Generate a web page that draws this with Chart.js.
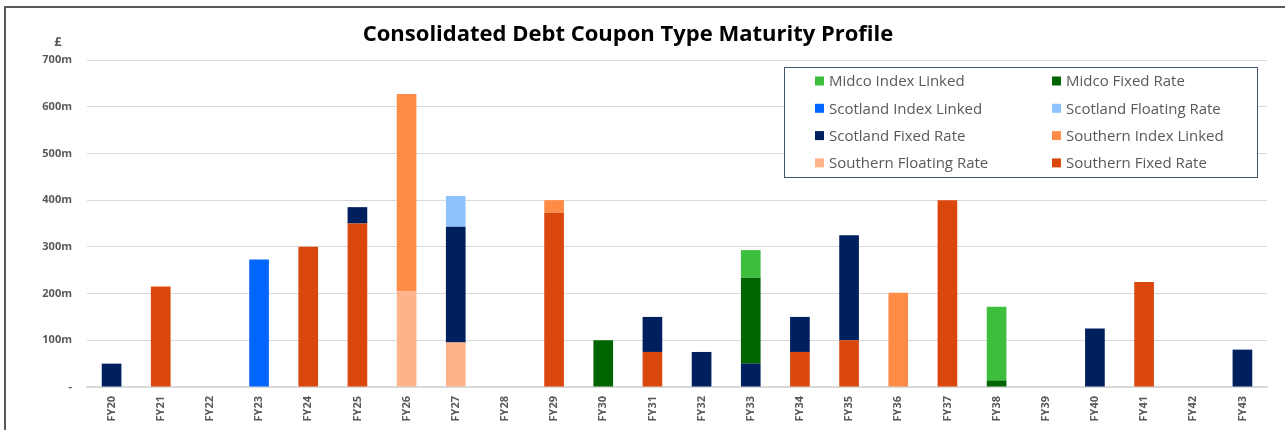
<!DOCTYPE html>
<html>
<head>
<meta charset="utf-8">
<script src="https://cdn.jsdelivr.net/npm/chart.js@4"></script>
<style>
  body { margin: 0; background: #fff; overflow: hidden; }
  #frame { position: absolute; left: 4px; top: 6px; width: 1400px; height: 600px;
           border-left: 2px solid #5a5a5a; border-top: 2px solid #5a5a5a; }
  #wrap { position: absolute; left: 0; top: 0; width: 1285px; height: 430px; }
</style>
</head>
<body>
<div id="frame"></div>
<div id="wrap"><canvas id="chart" width="1285" height="430"></canvas></div>
<script>
const categories = ["FY20","FY21","FY22","FY23","FY24","FY25","FY26","FY27","FY28","FY29","FY30","FY31",
                    "FY32","FY33","FY34","FY35","FY36","FY37","FY38","FY39","FY40","FY41","FY42","FY43"];

// £m
const southernFixed    = [0,215,0,0,300,350,0,0,0,373,0,75,0,0,75,100,0,400,0,0,0,225,0,0];
const southernFloating = [0,0,0,0,0,0,205,95,0,0,0,0,0,0,0,0,0,0,0,0,0,0,0,0];
const southernIndex    = [0,0,0,0,0,0,422,0,0,27,0,0,0,0,0,0,202,0,0,0,0,0,0,0];
const scotlandFixed    = [50,0,0,0,0,35,0,248,0,0,0,75,75,50,75,225,0,0,0,0,125,0,0,80];
const scotlandFloating = [0,0,0,0,0,0,0,66,0,0,0,0,0,0,0,0,0,0,0,0,0,0,0,0];
const scotlandIndex    = [0,0,0,273,0,0,0,0,0,0,0,0,0,0,0,0,0,0,0,0,0,0,0,0];
const midcoFixed       = [0,0,0,0,0,0,0,0,0,0,100,0,0,184,0,0,0,0,14,0,0,0,0,0];
const midcoIndex       = [0,0,0,0,0,0,0,0,0,0,0,0,0,59,0,0,0,0,158,0,0,0,0,0];

const yTicks = [0,100,200,300,400,500,600,700];

const font = "'Open Sans', 'Liberation Sans', sans-serif";
const grey = "#595959";

// legend reads row by row, two columns (reverse of the stacking order)
const legendOrder = ["Midco Index Linked","Midco Fixed Rate","Scotland Index Linked","Scotland Floating Rate",
                     "Scotland Fixed Rate","Southern Index Linked","Southern Floating Rate","Southern Fixed Rate"];

const extras = {
  id: "extras",
  afterDraw(chart) {
    const ctx = chart.ctx;
    ctx.save();
    // title
    ctx.fillStyle = "#000";
    ctx.font = "bold 22px " + font;
    ctx.textAlign = "center";
    ctx.textBaseline = "middle";
    ctx.fillText("Consolidated Debt Coupon Type Maturity Profile", 628, 35);
    // currency unit
    ctx.fillStyle = grey;
    ctx.font = "bold 13px " + font;
    ctx.fillText("£", 58, 42);

    // legend box
    const bx = 784, by = 67, bw = 473, bh = 110;
    ctx.fillStyle = "#fff";
    ctx.fillRect(bx, by, bw, bh);
    ctx.strokeStyle = "#44546a";
    ctx.lineWidth = 1;
    ctx.strokeRect(bx + 0.5, by + 0.5, bw, bh);
    ctx.font = "15px " + font;
    ctx.textAlign = "left";
    legendOrder.forEach((name, i) => {
      const ds = chart.data.datasets.find(d => d.label === name);
      const col = i % 2, row = Math.floor(i / 2);
      const x = col === 0 ? 815 : 1052;
      const y = 81 + row * 27.3;
      ctx.fillStyle = ds.backgroundColor;
      ctx.fillRect(x, y - 4.5, 9, 9);
      ctx.fillStyle = grey;
      ctx.fillText(name, x + 14, y + 1);
    });
    ctx.restore();
  }
};

const datasets = [
  { label: "Southern Fixed Rate",    data: southernFixed,    backgroundColor: "#d9470d" },
  { label: "Southern Floating Rate", data: southernFloating, backgroundColor: "#ffb38b" },
  { label: "Southern Index Linked",  data: southernIndex,    backgroundColor: "#ff8c46" },
  { label: "Scotland Fixed Rate",    data: scotlandFixed,    backgroundColor: "#001f5f" },
  { label: "Scotland Floating Rate", data: scotlandFloating, backgroundColor: "#8fc3ff" },
  { label: "Scotland Index Linked",  data: scotlandIndex,    backgroundColor: "#0066ff" },
  { label: "Midco Fixed Rate",       data: midcoFixed,       backgroundColor: "#006400" },
  { label: "Midco Index Linked",     data: midcoIndex,       backgroundColor: "#3dbe3d" }
];

new Chart(document.getElementById("chart"), {
  type: "bar",
  data: { labels: categories, datasets: datasets },
  options: {
    responsive: false,
    animation: false,
    layout: { padding: { top: 60, right: 18, left: 0, bottom: 0 } },
    datasets: { bar: { categoryPercentage: 1, barPercentage: 0.4 } },
    plugins: { legend: { display: false }, title: { display: false }, tooltip: { enabled: false } },
    scales: {
      x: {
        stacked: true,
        grid: { display: false, drawTicks: false },
        border: { color: "#d9d9d9", width: 2 },
        ticks: { color: grey, font: { family: font, size: 11, weight: "bold" },
                 minRotation: 90, maxRotation: 90, padding: 9 },
        afterFit(axis) { axis.height = 43; }
      },
      y: {
        stacked: true,
        min: 0, max: 700,
        afterBuildTicks(axis) { axis.ticks = yTicks.map(v => ({ value: v })); },
        grid: { color: "#d9d9d9", drawTicks: false },
        border: { display: false },
        ticks: { color: grey, font: { family: font, size: 11, weight: "bold" }, padding: 15,
                 callback: v => v === 0 ? "-" : v + "m" },
        afterFit(axis) { axis.width = 87; }
      }
    }
  },
  plugins: [extras]
});
</script>
</body>
</html>
